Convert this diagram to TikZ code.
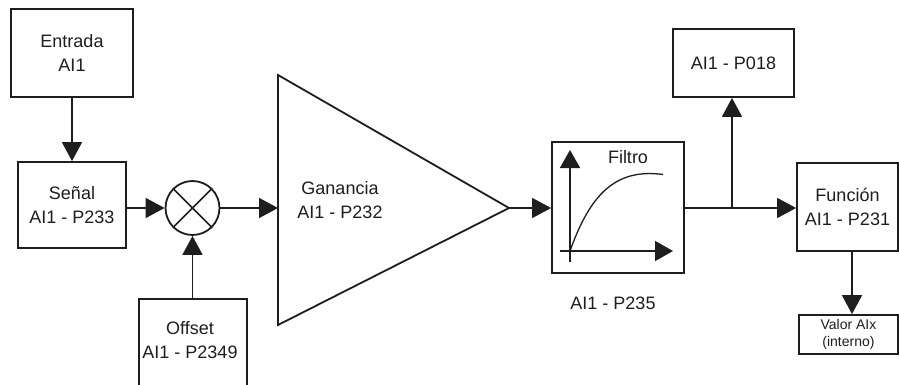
\documentclass[tikz,border=0pt]{standalone}
\usepackage{fontspec}
\setmainfont{Liberation Sans}
\usetikzlibrary{arrows.meta}
\definecolor{ink}{HTML}{1E1E1E}
\begin{document}
\begin{tikzpicture}[x=1pt,y=-1pt,
  every node/.style={text=ink, font=\fontsize{18}{24}\selectfont, align=center, inner sep=0pt},
  box/.style={draw=ink, line width=1.8pt, fill=white},
  conn/.style={draw=ink, line width=1.6pt, -{Triangle[length=19pt,width=20pt]}},
  plain/.style={draw=ink, line width=1.6pt},
  small/.style={font=\fontsize{14}{17}\selectfont}]
\useasboundingbox (0,0) rectangle (899,385);
\clip (0,0) rectangle (899,385);
\fill[white] (0,0) rectangle (899,385);
% boxes
\node[box, minimum width=122pt, minimum height=88pt] (entrada) at (72,53) {Entrada\\AI1};
\node[box, minimum width=108pt, minimum height=86pt] (senal) at (72,205) {Señal\\AI1 - P233};
\node[draw=ink, line width=1.8pt, circle, minimum size=54pt] (sum) at (192.5,208) {};
\draw[ink, line width=1.6pt] (sum.45) -- (sum.225) (sum.135) -- (sum.315);
\node[box, minimum width=108pt, minimum height=110pt] (offset) at (193,354) {};
\node (offsettxt) at (190,340) {Offset\\AI1 - P2349};
% triangle gain
\coordinate (gA) at (278,75);
\coordinate (gB) at (278,325);
\coordinate (gtip) at (509,208);
\coordinate (gin) at (278,208);
\draw[ink, line width=1.8pt, line join=miter] (gA) -- (gtip) -- (gB) -- cycle;
\node (gain) at (340,200) {Ganancia\\AI1 - P232};
% filter
\node[box, minimum width=132pt, minimum height=131pt] (filtro) at (618,207.5) {};
\node (filtrotxt) at (628,157) {Filtro};
\coordinate (vb) at (570,262);
\coordinate (vt) at (570,150);
\coordinate (hl) at (560,251);
\coordinate (hr) at (673,251);
\draw[ink, line width=1.6pt, -{Triangle[length=18pt,width=20pt]}] (vb) -- (vt);
\draw[ink, line width=1.6pt, -{Triangle[length=18pt,width=20pt]}] (hl) -- (hr);
\draw[ink, line width=1.3pt] (570,251) .. controls (590,195) and (615,168) .. (663,174.5);
\node (p235) at (613,303) {AI1 - P235};
% right side
\coordinate (junc) at (732,208);
\node[box, minimum width=121pt, minimum height=68pt] (p018) at (733.5,63) {AI1 - P018};
\node[box, minimum width=101pt, minimum height=88pt] (funcion) at (847.5,207) {Función\\AI1 - P231};
\node[box, minimum width=99pt, minimum height=39pt, small] (valor) at (848.5,334.5) {Valor AIx\\(interno)};
% connectors
\draw[conn] (entrada.south) -- (senal.north);
\draw[conn] (senal.east |- sum.west) -- (sum.west);
\draw[conn] (offset.north -| sum.south) -- (sum.south);
\draw[conn] (sum.east) -- (gin);
\draw[conn] (gtip) -- (filtro.west |- gtip);
\draw[plain] (filtro.east |- junc) -- (junc);
\draw[conn] (junc) -- (funcion.west |- junc);
\draw[conn] (junc) -- (junc |- p018.south);
\draw[conn] (funcion.south -| valor.north) ++(3.5,0) -- ([xshift=3.5pt]valor.north);
\end{tikzpicture}
\end{document}
